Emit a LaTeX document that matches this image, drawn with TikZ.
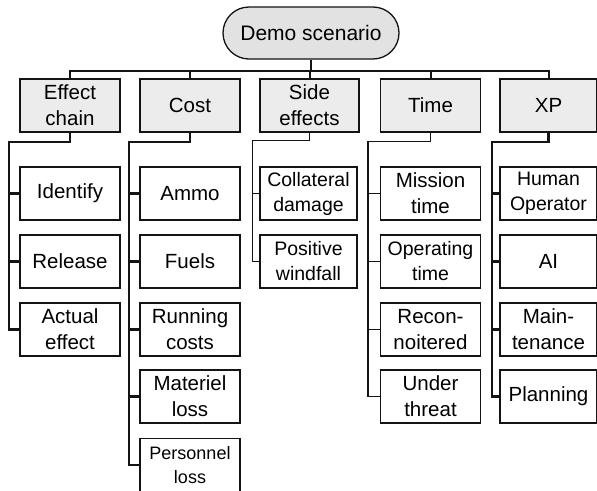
\documentclass[tikz,border=0pt]{standalone}
\usepackage{fontspec}
\setmainfont{Liberation Sans}
\definecolor{rootfill}{RGB}{226,226,226}
\definecolor{headfill}{RGB}{236,236,236}
\definecolor{ink}{RGB}{20,20,20}
\begin{document}
\begin{tikzpicture}[x=1pt,y=-1pt,
  box/.style={draw=ink, line width=1.3pt, minimum width=100pt, minimum height=53pt,
    inner sep=0pt, align=center, font=\fontsize{20.5}{26}\selectfont},
  head/.style={box, fill=headfill},
  small/.style={font=\fontsize{19.5}{25}\selectfont},
  tiny/.style={font=\fontsize{18}{24}\selectfont},
  conn/.style={draw=ink, line width=2.2pt},
  lconn/.style={draw=ink, line width=1.4pt}]
\useasboundingbox (0,0) rectangle (597,490);

% root
\node[draw=ink, line width=1.3pt, fill=rootfill, rounded corners=26pt,
  minimum width=176pt, minimum height=52pt, inner sep=0pt,
  font=\fontsize{21}{26}\selectfont] (root) at (311,33) {Demo scenario};

% level 1
\node[head] (ec) at (70,105.5) {Effect\\chain};
\node[head] (co) at (190,105.5) {Cost};
\node[head, minimum width=99pt] (se) at (309.5,105.5) {Side\\effects};
\node[head] (ti) at (430.5,105.5) {Time};
\node[head, minimum width=97pt] (xp) at (548.5,105.5) {XP};

% top bus
\coordinate (bus) at (0,71);
\draw[line width=2.8pt, draw=ink] (root.south) -- (root.south |- bus);
\draw[line width=2pt, draw=ink] (ec.north) |- (root.south |- bus) -| (xp.north);
\draw[line width=2pt, draw=ink] (co.north) -- (co.north |- bus);
\draw[line width=2pt, draw=ink] (se.north) -- (se.north |- bus);
\draw[line width=2pt, draw=ink] (ti.north) -- (ti.north |- bus);

% Effect chain children
\node[box] (ec1) at (70,193.5) {Identify};
\node[box] (ec2) at (70,261.5) {Release};
\node[box] (ec3) at (70,329.5) {Actual\\effect};
\draw[conn] (ec.south) -- ++(0,9) -| ([xshift=-10pt]ec3.west) -- (ec3.west);
\draw[conn] (ec1.west) -- ++(-10,0);
\draw[conn] (ec2.west) -- ++(-10,0);

% Cost children
\node[box] (co1) at (190,193.5) {Ammo};
\node[box] (co2) at (190,261.5) {Fuels};
\node[box] (co3) at (190,329.5) {Running\\costs};
\node[box] (co4) at (190,396.5) {Materiel\\loss};
\node[box, tiny] (co5) at (190,465) {Personnel\\loss};
\draw[conn] (co.south) -- ++(0,9) -| ([xshift=-10pt]co5.west) -- (co5.west);
\draw[conn] (co1.west) -- ++(-10,0);
\draw[conn] (co2.west) -- ++(-10,0);
\draw[conn] (co3.west) -- ++(-10,0);
\draw[conn] (co4.west) -- ++(-10,0);

% Side effects children
\node[box, small, minimum width=97pt] (se1) at (308.5,193.5) {Collateral\\damage};
\node[box, small, minimum width=97pt] (se2) at (308.5,261.5) {Positive\\windfall};
\draw[lconn] (se.south) -- ++(0,8) -| ([xshift=-7pt]se2.west) -- (se2.west);
\draw[lconn] (se1.west) -- ++(-7,0);

% Time children
\node[box] (ti1) at (430.5,193.5) {Mission\\time};
\node[box, small] (ti2) at (430.5,261.5) {Operating\\time};
\node[box] (ti3) at (430.5,329.5) {Recon-\\noitered};
\node[box] (ti4) at (430.5,396.5) {Under\\threat};
\draw[lconn] (ti.south) -- ++(0,9) -| ([xshift=-12pt]ti4.west) -- (ti4.west);
\draw[lconn] (ti1.west) -- ++(-12,0);
\draw[lconn] (ti2.west) -- ++(-12,0);
\draw[lconn] (ti3.west) -- ++(-12,0);

% XP children
\node[box, small, minimum width=97pt] (xp1) at (548.5,193.5) {Human\\Operator};
\node[box, minimum width=97pt] (xp2) at (548.5,261.5) {AI};
\node[box, minimum width=97pt] (xp3) at (548.5,329.5) {Main-\\tenance};
\node[box, minimum width=97pt] (xp4) at (548.5,396.5) {Planning};
\draw[conn] (xp.south) -- ++(0,9) -| ([xshift=-7pt]xp4.west) -- (xp4.west);
\draw[conn] (xp1.west) -- ++(-7,0);
\draw[conn] (xp2.west) -- ++(-7,0);
\draw[conn] (xp3.west) -- ++(-7,0);
\end{tikzpicture}
\end{document}
